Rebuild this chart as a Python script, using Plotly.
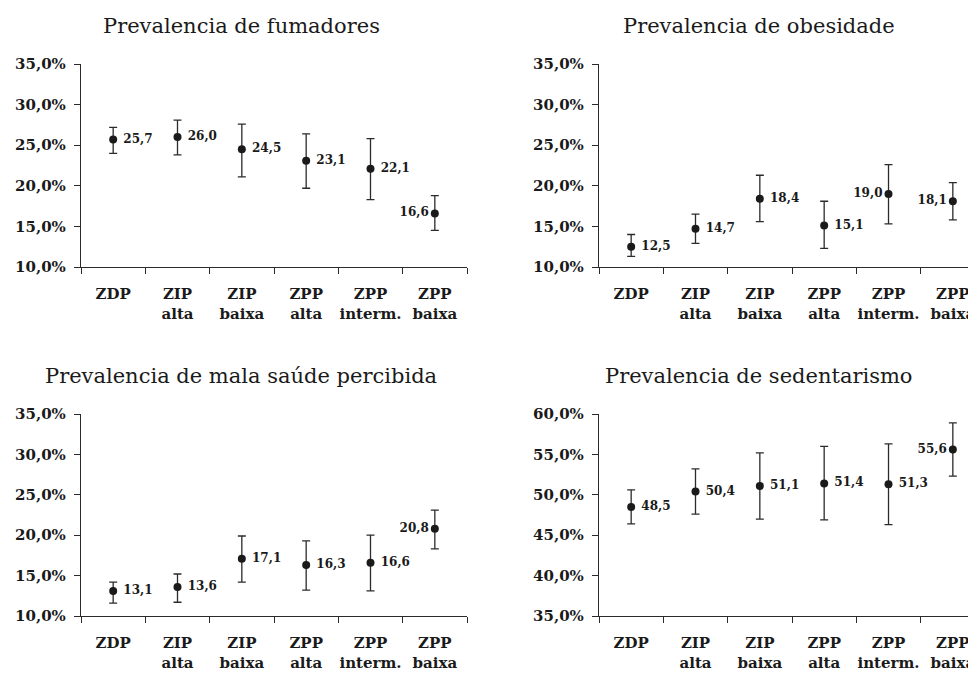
"""Prevalence by zone: four point-and-interval panels."""

import plotly.graph_objects as go

categories = ["ZDP", "ZIP<br>alta", "ZIP<br>baixa", "ZPP<br>alta", "ZPP<br>interm.", "ZPP<br>baixa"]

# values (%) and 95% CI bounds
fumadores = [25.7, 26.0, 24.5, 23.1, 22.1, 16.6]
fumadores_lo = [24.0, 23.8, 21.1, 19.7, 18.3, 14.5]
fumadores_hi = [27.2, 28.1, 27.6, 26.4, 25.8, 18.8]

obesidade = [12.5, 14.7, 18.4, 15.1, 19.0, 18.1]
obesidade_lo = [11.3, 12.9, 15.6, 12.3, 15.3, 15.8]
obesidade_hi = [14.0, 16.5, 21.3, 18.1, 22.6, 20.4]

mala_saude = [13.1, 13.6, 17.1, 16.3, 16.6, 20.8]
mala_saude_lo = [11.6, 11.7, 14.2, 13.2, 13.1, 18.3]
mala_saude_hi = [14.2, 15.2, 19.9, 19.3, 20.0, 23.1]

sedentarismo = [48.5, 50.4, 51.1, 51.4, 51.3, 55.6]
sedentarismo_lo = [46.4, 47.6, 47.0, 46.9, 46.3, 52.3]
sedentarismo_hi = [50.6, 53.2, 55.2, 56.0, 56.3, 58.9]

titles = [
    "Prevalencia de fumadores",
    "Prevalencia de obesidade",
    "Prevalencia de mala saúde percibida",
    "Prevalencia de sedentarismo",
]

FONT = "DejaVu Serif"
INK = "#1a1a1a"
LINE = "#2b2b2b"
R = "middle right"
L = "middle left"

panels = [
    (fumadores, fumadores_lo, fumadores_hi, [R, R, R, R, R, L], "x", "y"),
    (obesidade, obesidade_lo, obesidade_hi, [R, R, R, R, L, L], "x2", "y2"),
    (mala_saude, mala_saude_lo, mala_saude_hi, [R, R, R, R, R, L], "x3", "y3"),
    (sedentarismo, sedentarismo_lo, sedentarismo_hi, [R, R, R, R, R, L], "x4", "y4"),
]

fig = go.Figure()
for vals, lo, hi, pos, xa, ya in panels:
    fig.add_trace(
        go.Scatter(
            x=categories,
            y=vals,
            mode="markers+text",
            marker=dict(size=8, color=INK),
            texttemplate=[" %{y:.1f}" if p == R else "%{y:.1f}" for p in pos],
            textposition=pos,
            textfont=dict(family=FONT, size=12, color=INK, weight="bold"),
            error_y=dict(
                type="data",
                symmetric=False,
                array=[h - v for h, v in zip(hi, vals)],
                arrayminus=[v - l for v, l in zip(vals, lo)],
                color=LINE,
                thickness=1.3,
                width=4,
            ),
            xaxis=xa,
            yaxis=ya,
            showlegend=False,
            cliponaxis=False,
        )
    )

# the page body adds an 8px margin, so the figure is 968x669 and
# reference pixel positions are shifted by -8
W, H, OFF = 968, 669, 8


def px_x(a, b):
    return [(a - OFF) / W, min(1.0, (b - OFF) / W)]


def px_y(top, bottom):
    return [1 - (bottom - OFF) / H, 1 - (top - OFF) / H]


left_dom = px_x(81, 467)
right_dom = px_x(599, 976)
top_dom = px_y(64, 267)
bot_dom = px_y(414, 616)


def xaxis(domain, anchor, rng):
    return dict(
        domain=domain,
        anchor=anchor,
        type="category",
        range=rng,
        automargin=False,
        showline=True,
        linecolor=LINE,
        linewidth=1.3,
        ticks="outside",
        tickson="boundaries",
        ticklen=6,
        tickwidth=1.3,
        tickcolor=LINE,
        tickangle=0,
        showgrid=False,
        zeroline=False,
        fixedrange=True,
        ticklabelstandoff=13,
        tickfont=dict(family=FONT, size=15, color=INK, weight="bold"),
    )


def yaxis(domain, anchor, rng):
    return dict(
        domain=domain,
        anchor=anchor,
        range=rng,
        automargin=False,
        dtick=5,
        tick0=0,
        tickformat=".1f",
        ticksuffix="%",
        showline=True,
        linecolor=LINE,
        linewidth=1.3,
        ticks="outside",
        ticklen=6,
        tickwidth=1.3,
        tickcolor=LINE,
        ticklabelstandoff=5,
        showgrid=False,
        zeroline=False,
        fixedrange=True,
        tickfont=dict(family=FONT, size=15, color=INK, weight="bold"),
    )


fig.update_layout(
    width=W,
    height=H,
    margin=dict(l=0, r=0, t=0, b=0),
    paper_bgcolor="white",
    plot_bgcolor="white",
    separators=",.",
    xaxis=xaxis(left_dom, "y", [-0.5, 5.5]),
    yaxis=yaxis(top_dom, "x", [10, 35]),
    xaxis2=xaxis(right_dom, "y2", [-0.5, 5.36]),
    yaxis2=yaxis(top_dom, "x2", [10, 35]),
    xaxis3=xaxis(left_dom, "y3", [-0.5, 5.5]),
    yaxis3=yaxis(bot_dom, "x3", [10, 35]),
    xaxis4=xaxis(right_dom, "y4", [-0.5, 5.36]),
    yaxis4=yaxis(bot_dom, "x4", [35, 60]),
)

title_pos = [(241, 26), (759, 26), (241, 376), (759, 376)]
for t, (px, py) in zip(titles, title_pos):
    fig.add_annotation(
        text=t,
        x=(px - OFF) / W,
        y=1 - (py - OFF) / H,
        xref="paper",
        yref="paper",
        xanchor="center",
        yanchor="middle",
        showarrow=False,
        font=dict(family=FONT, size=21, color=INK),
    )

fig.write_html("out.html")
